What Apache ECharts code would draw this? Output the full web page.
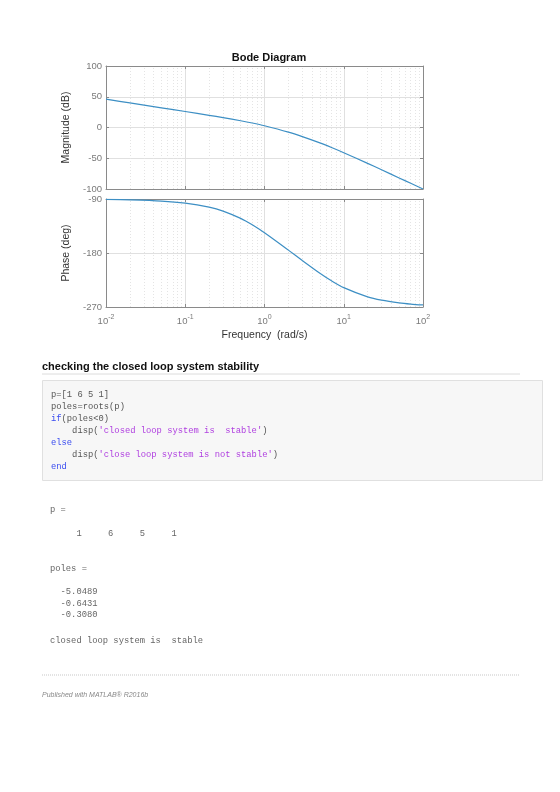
<!DOCTYPE html>
<html>
<head>
<meta charset="utf-8">
<script src="https://cdn.jsdelivr.net/npm/echarts@6/dist/echarts.min.js"></script>
<style>
  html, body { margin: 0; padding: 0; background: #fff; }
  #chart { width: 560px; height: 792px; }
</style>
</head>
<body>
<div id="chart"></div>
<script>
// values
const freq = [0.01, 0.02, 0.05, 0.1, 0.2, 0.3, 0.5, 0.7, 1, 2, 3, 5, 7, 10, 20, 30, 50, 70, 100];
const magDb = [46.0, 40.0, 32.0, 26.0, 19.8, 16.1, 11.0, 7.3, 2.8, -7.6, -14.9, -25.1, -32.6, -41.0, -58.3, -68.8, -82.0, -90.7, -100.0];
const phaseDeg = [-90.7, -91.4, -93.4, -96.9, -103.6, -110.1, -122.3, -133.0, -146.3, -175.2, -192.5, -213.7, -226.3, -237.7, -253.1, -258.6, -263.1, -265.1, -266.6];

const magTicks = [-100, 100, 50];
const phaseTicks = [-270, -90, 90];
const decades = [0.01, 0.1, 1, 10];
const minorMult = [2, 3, 4, 5, 6, 7, 8, 9];

// page text under the plot
const heading = "checking the closed loop system stability";
const codeLines = [
  [[0, "p=[1 6 5 1]", "n"]],
  [[0, "poles=roots(p)", "n"]],
  [[0, "if", "k"], [2, "(poles<0)", "n"]],
  [[4, "disp(", "n"], [9, "'closed loop system is  stable'", "s"], [40, ")", "n"]],
  [[0, "else", "k"]],
  [[4, "disp(", "n"], [9, "'close loop system is not stable'", "s"], [42, ")", "n"]],
  [[0, "end", "k"]]
];
const outputLines = [
  ["p =", 510],
  ["     1     6     5     1", 534],
  ["poles =", 569],
  ["  -5.0489", 592],
  ["  -0.6431", 603.5],
  ["  -0.3080", 615],
  ["closed loop system is  stable", 641]
];
const footer = "Published with MATLAB\u00AE R2016b";

const minorGrid = [];
decades.forEach((d) => minorMult.forEach((m) => minorGrid.push(+(d * m).toPrecision(3))));

const lineColor = "#3d8fc4";
const boxColor = "#8a8a8a";
const labelColor = "#7a7a7a";

function supLabel(v) {
  const e = Math.round(Math.log10(v));
  return "10{s|" + (e < 0 ? "-" : "") + Math.abs(e) + "}";
}

function xAxes(gridIndex, withLabels) {
  const base = {
    type: "log", logBase: 10, min: 0.01, max: 100, gridIndex: gridIndex,
    axisLine: { show: true, onZero: false, lineStyle: { color: boxColor, width: 1 } },
    axisTick: { show: true, inside: true, length: 3, lineStyle: { color: boxColor } },
    splitLine: { show: false },
    axisLabel: { show: false }
  };
  const bottom = Object.assign({}, base, {
    position: "bottom",
    splitLine: { show: true, lineStyle: { color: "#e0e0e0", width: 1 } },
    axisLabel: {
      show: withLabels, color: labelColor, fontFamily: "Liberation Sans", fontSize: 9.5, margin: 7,
      formatter: supLabel,
      rich: { s: { fontSize: 7, color: labelColor, fontFamily: "Liberation Sans", padding: [0, 0, 7, 0] } }
    }
  });
  if (withLabels) {
    bottom.name = "Frequency  (rad/s)";
    bottom.nameLocation = "middle";
    bottom.nameGap = 23;
    bottom.nameTextStyle = { color: "#333", fontFamily: "Liberation Sans", fontSize: 10.5 };
  }
  const top = Object.assign({}, base, { position: "top" });
  return [bottom, top];
}

function yAxes(gridIndex, ticks, name, gap) {
  const left = {
    type: "value", gridIndex: gridIndex, min: ticks[0], max: ticks[1], interval: ticks[2],
    position: "left",
    name: name, nameLocation: "middle", nameGap: gap,
    nameTextStyle: { color: "#333", fontFamily: "Liberation Sans", fontSize: 10.5 },
    axisLine: { show: true, onZero: false, lineStyle: { color: boxColor } },
    axisTick: { show: true, inside: true, length: 3, lineStyle: { color: boxColor } },
    axisLabel: { color: labelColor, fontFamily: "Liberation Sans", fontSize: 9.5, margin: 4 },
    splitLine: { show: true, lineStyle: { color: "#e0e0e0" } }
  };
  const right = {
    type: "value", gridIndex: gridIndex, min: ticks[0], max: ticks[1], interval: ticks[2],
    position: "right",
    axisLine: { show: true, onZero: false, lineStyle: { color: boxColor } },
    axisTick: { show: true, inside: true, length: 3, lineStyle: { color: boxColor } },
    axisLabel: { show: false },
    splitLine: { show: false }
  };
  return [left, right];
}

function curve(name, values, gridIndex) {
  return {
    name: name, type: "line",
    xAxisIndex: gridIndex * 2, yAxisIndex: gridIndex * 2,
    data: freq.map((f, i) => [f, values[i]]),
    smooth: 0.3, symbol: "none",
    lineStyle: { color: lineColor, width: 1.2 },
    z: 5,
    markLine: {
      silent: true, symbol: "none", animation: false,
      label: { show: false },
      lineStyle: { color: "#e4e4e4", type: [1, 2], width: 1 },
      data: minorGrid.map((v) => ({ xAxis: v }))
    }
  };
}

const graphics = [];
graphics.push({
  type: "text",
  style: { text: heading, x: 42, y: 367, font: "bold 11px 'Liberation Sans'", fill: "#111", textVerticalAlign: "middle" }
});
graphics.push({ type: "line", shape: { x1: 42, y1: 374, x2: 520, y2: 374 }, style: { stroke: "#dcdcdc", lineWidth: 1 } });
graphics.push({
  type: "rect", shape: { x: 42.5, y: 380.5, width: 500, height: 100 },
  style: { fill: "#f7f7f7", stroke: "#e0e0e0", lineWidth: 1 }
});
const codeColors = { n: "#555", k: "#3a4cf0", s: "#b040e0" };
const charW = 8.8 * 0.6;
codeLines.forEach((parts, i) => {
  parts.forEach((p) => {
    graphics.push({
      type: "text",
      style: {
        text: p[1], x: 51 + p[0] * charW, y: 395 + i * 11.9,
        font: "8.8px 'Liberation Mono'", fill: codeColors[p[2]], textVerticalAlign: "middle"
      }
    });
  });
});
outputLines.forEach((l) => {
  graphics.push({
    type: "text",
    style: { text: l[0], x: 50, y: l[1], font: "8.8px 'Liberation Mono'", fill: "#666", textVerticalAlign: "middle" }
  });
});
graphics.push({
  type: "line", shape: { x1: 42, y1: 675, x2: 520, y2: 675 },
  style: { stroke: "#c8c8c8", lineWidth: 1, lineDash: [1, 1] }
});
graphics.push({
  type: "text",
  style: { text: footer, x: 42, y: 695, font: "italic 7px 'Liberation Sans'", fill: "#888", textVerticalAlign: "middle" }
});

const chart = echarts.init(document.getElementById("chart"), null, { renderer: "canvas" });
chart.setOption({
  backgroundColor: "#fff",
  animation: false,
  title: {
    text: "Bode Diagram", left: 264, top: 47, textAlign: "center",
    textStyle: { fontFamily: "Liberation Sans", fontWeight: "bold", fontSize: 11, color: "#111" }
  },
  grid: [
    { left: 106, top: 66, width: 317, height: 123 },
    { left: 106, top: 199, width: 317, height: 108 }
  ],
  xAxis: xAxes(0, false).concat(xAxes(1, true)),
  yAxis: yAxes(0, magTicks, "Magnitude (dB)", 29).concat(yAxes(1, phaseTicks, "Phase (deg)", 29)),
  series: [curve("Magnitude", magDb, 0), curve("Phase", phaseDeg, 1)],
  graphic: graphics
});
</script>
</body>
</html>
